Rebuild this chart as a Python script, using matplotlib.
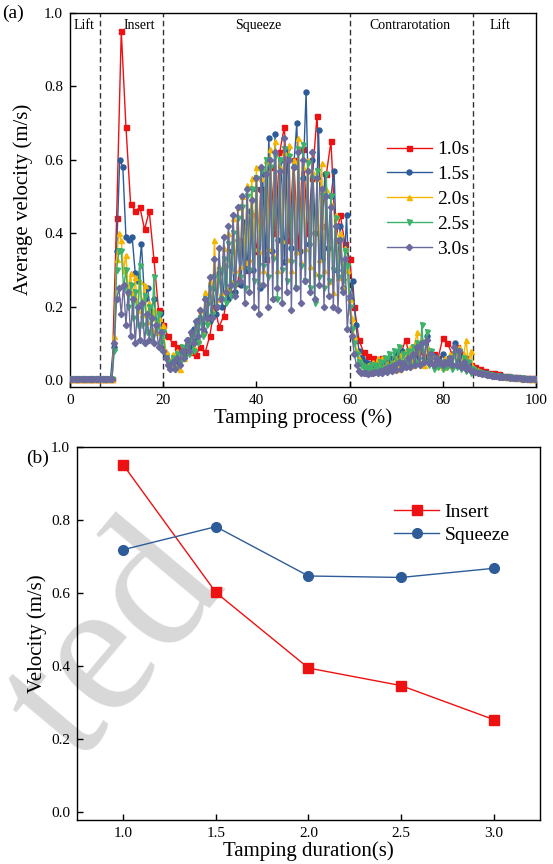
"""
plot.py - tamping velocity figure
(a) average ballast velocity over the tamping process for five durations
(b) peak insert / squeeze velocity against tamping duration
"""

import numpy as np
import matplotlib
matplotlib.use("Agg")
import matplotlib.pyplot as plt


# --- DATA ---
durations = ["1.0s", "1.5s", "2.0s", "2.5s", "3.0s"]

vel_10 = [
    0.002, 0.002, 0.002, 0.002, 0.002, 0.002, 0.002, 0.002, 0.002, 0.002,
    0.44, 0.95, 0.69, 0.48, 0.46, 0.47, 0.41, 0.46, 0.33, 0.19,
    0.15, 0.12, 0.10, 0.09, 0.085, 0.08, 0.077, 0.068, 0.09, 0.075,
    0.12, 0.20, 0.145, 0.175, 0.245, 0.236, 0.263, 0.38, 0.30, 0.45,
    0.35, 0.52, 0.33, 0.58, 0.40, 0.62, 0.69, 0.38, 0.60, 0.35,
    0.63, 0.40, 0.55, 0.72, 0.42, 0.56, 0.65, 0.38, 0.45, 0.37,
    0.33, 0.20, 0.11, 0.075, 0.065, 0.06, 0.055, 0.06, 0.05, 0.055,
    0.06, 0.07, 0.11, 0.06, 0.07, 0.08, 0.065, 0.06, 0.07, 0.06,
    0.115, 0.10, 0.07, 0.09, 0.07, 0.06, 0.04, 0.035, 0.03, 0.025,
    0.02, 0.018, 0.015, 0.012, 0.01, 0.008, 0.007, 0.006, 0.005, 0.005,
    0.005,
]

vel_15 = [
    0.002, 0.002, 0.002, 0.002, 0.002, 0.002, 0.002, 0.002, 0.002, 0.002,
    0.002, 0.002, 0.002, 0.002,
    0.09, 0.35, 0.60, 0.58, 0.39, 0.38, 0.39,
    0.29, 0.27, 0.37, 0.22, 0.25, 0.18, 0.22, 0.15, 0.18, 0.12,
    0.07, 0.05, 0.04, 0.06, 0.05, 0.08, 0.07, 0.11, 0.09, 0.14,
    0.11, 0.17, 0.13, 0.21, 0.16, 0.25, 0.18, 0.29, 0.20, 0.31,
    0.22, 0.35, 0.24, 0.38, 0.26, 0.43, 0.30, 0.46, 0.30, 0.52,
    0.25, 0.56, 0.33, 0.66, 0.35, 0.67, 0.38, 0.60, 0.32, 0.63,
    0.36, 0.58, 0.70, 0.35, 0.55, 0.785, 0.37, 0.60, 0.40, 0.68,
    0.33, 0.56, 0.36, 0.50, 0.57, 0.30, 0.42, 0.25, 0.45, 0.22,
    0.27, 0.15, 0.08, 0.06, 0.05, 0.045, 0.04, 0.035, 0.04, 0.035,
    0.045, 0.04, 0.06, 0.04, 0.075, 0.05, 0.08, 0.045, 0.07, 0.05,
    0.09, 0.05, 0.10, 0.06, 0.12, 0.05, 0.065, 0.045, 0.05, 0.07,
    0.045, 0.06, 0.04, 0.10, 0.05, 0.065, 0.04, 0.05, 0.035, 0.03,
    0.025, 0.022, 0.02, 0.018, 0.016, 0.014, 0.012, 0.011, 0.01, 0.009,
    0.008, 0.007, 0.006, 0.006, 0.005, 0.005, 0.004, 0.004, 0.004, 0.004,
]

vel_20 = [
    0.002, 0.002, 0.002, 0.002, 0.002, 0.002, 0.002, 0.002, 0.002, 0.002,
    0.002, 0.002, 0.002, 0.002, 0.002, 0.002, 0.002, 0.002, 0.002,
    0.12, 0.33,
    0.40, 0.38, 0.30, 0.34, 0.24, 0.29, 0.22, 0.28, 0.19, 0.27,
    0.18, 0.26, 0.16, 0.21, 0.14, 0.19, 0.13, 0.17, 0.12, 0.15,
    0.08, 0.06, 0.04, 0.07, 0.04, 0.08, 0.03, 0.07, 0.06, 0.11,
    0.08, 0.13, 0.09, 0.16, 0.11, 0.19, 0.13, 0.24, 0.16, 0.27,
    0.19, 0.38, 0.22, 0.31, 0.24, 0.36, 0.25, 0.40, 0.27, 0.44,
    0.30, 0.47, 0.31, 0.50, 0.32, 0.53, 0.33, 0.55, 0.36, 0.58,
    0.35, 0.55, 0.30, 0.60, 0.36, 0.63, 0.34, 0.65, 0.30, 0.58,
    0.38, 0.62, 0.33, 0.64, 0.30, 0.60, 0.35, 0.66, 0.32, 0.58,
    0.36, 0.60, 0.31, 0.57, 0.29, 0.55, 0.33, 0.59, 0.30, 0.52,
    0.27, 0.48, 0.24, 0.45, 0.28, 0.40, 0.25, 0.36, 0.30, 0.22,
    0.17, 0.12, 0.08, 0.06, 0.05, 0.04, 0.035, 0.04, 0.03, 0.05,
    0.03, 0.06, 0.03, 0.06, 0.03, 0.045, 0.03, 0.05, 0.035, 0.06,
    0.03, 0.07, 0.04, 0.08, 0.04, 0.09, 0.04, 0.10, 0.13, 0.05,
    0.11, 0.04, 0.09, 0.05, 0.07, 0.04, 0.06, 0.04, 0.05, 0.035,
    0.06, 0.04, 0.07, 0.04, 0.08, 0.045, 0.09, 0.04, 0.07, 0.11,
    0.04, 0.08, 0.035, 0.03, 0.027, 0.024, 0.022, 0.02, 0.018, 0.016,
    0.015, 0.014, 0.013, 0.012, 0.011, 0.01, 0.009, 0.009, 0.008, 0.007,
    0.007, 0.006, 0.006, 0.005, 0.005, 0.005, 0.004, 0.004, 0.004, 0.004,
]

vel_25 = [
    0.002, 0.002, 0.002, 0.002, 0.002, 0.002, 0.002, 0.002, 0.002, 0.002,
    0.002, 0.002, 0.002, 0.002, 0.002, 0.002, 0.002, 0.002, 0.002,
    0.08, 0.30,
    0.35, 0.35, 0.25, 0.30, 0.20, 0.26, 0.17, 0.24, 0.15, 0.31,
    0.15, 0.23, 0.13, 0.20, 0.12, 0.28, 0.14, 0.18, 0.10, 0.13,
    0.06, 0.05, 0.04, 0.06, 0.03, 0.07, 0.05, 0.09, 0.06, 0.10,
    0.07, 0.12, 0.08, 0.15, 0.10, 0.17, 0.12, 0.22, 0.15, 0.25,
    0.18, 0.28, 0.20, 0.30, 0.22, 0.33, 0.21, 0.37, 0.23, 0.40,
    0.26, 0.44, 0.28, 0.47, 0.25, 0.50, 0.30, 0.52, 0.27, 0.55,
    0.26, 0.57, 0.31, 0.60, 0.28, 0.58, 0.33, 0.61, 0.22, 0.60,
    0.30, 0.63, 0.27, 0.61, 0.32, 0.58, 0.25, 0.63, 0.31, 0.64,
    0.27, 0.59, 0.25, 0.55, 0.21, 0.57, 0.28, 0.50, 0.25, 0.56,
    0.27, 0.50, 0.30, 0.44, 0.28, 0.38, 0.27, 0.35, 0.31, 0.20,
    0.14, 0.10, 0.07, 0.05, 0.04, 0.03, 0.035, 0.03, 0.04, 0.025,
    0.04, 0.03, 0.05, 0.03, 0.06, 0.03, 0.07, 0.035, 0.08, 0.04,
    0.09, 0.04, 0.07, 0.04, 0.08, 0.04, 0.09, 0.05, 0.10, 0.04,
    0.15, 0.05, 0.13, 0.04, 0.08, 0.03, 0.06, 0.035, 0.05, 0.03,
    0.05, 0.035, 0.06, 0.03, 0.07, 0.035, 0.08, 0.03, 0.06, 0.025,
    0.05, 0.02, 0.03, 0.025, 0.022, 0.02, 0.018, 0.016, 0.015, 0.014,
    0.013, 0.012, 0.011, 0.01, 0.009, 0.009, 0.008, 0.007, 0.007, 0.006,
    0.006, 0.005, 0.005, 0.005, 0.004, 0.004, 0.004, 0.003, 0.003, 0.003,
]

vel_30 = [
    0.002, 0.002, 0.002, 0.002, 0.002, 0.002, 0.002, 0.002, 0.002, 0.002,
    0.002, 0.002, 0.002, 0.002, 0.002, 0.002, 0.002, 0.002, 0.002,
    0.10, 0.22,
    0.25, 0.18, 0.26, 0.15, 0.24, 0.12, 0.22, 0.10, 0.20, 0.11,
    0.21, 0.10, 0.18, 0.11, 0.17, 0.10, 0.15, 0.09, 0.13, 0.08,
    0.06, 0.04, 0.03, 0.05, 0.03, 0.06, 0.04, 0.08, 0.06, 0.11,
    0.08, 0.13, 0.10, 0.16, 0.12, 0.19, 0.14, 0.22, 0.17, 0.28,
    0.17, 0.33, 0.20, 0.36, 0.22, 0.39, 0.24, 0.42, 0.26, 0.45,
    0.23, 0.47, 0.27, 0.50, 0.21, 0.52, 0.24, 0.49, 0.20, 0.55,
    0.18, 0.58, 0.26, 0.56, 0.20, 0.60, 0.22, 0.62, 0.25, 0.57,
    0.21, 0.66, 0.24, 0.60, 0.19, 0.58, 0.25, 0.62, 0.21, 0.60,
    0.27, 0.57, 0.24, 0.62, 0.22, 0.55, 0.26, 0.52, 0.20, 0.50,
    0.23, 0.47, 0.20, 0.42, 0.19, 0.38, 0.24, 0.33, 0.14, 0.23,
    0.12, 0.07, 0.04, 0.025, 0.02, 0.018, 0.02, 0.015, 0.02, 0.018,
    0.022, 0.02, 0.025, 0.02, 0.03, 0.022, 0.035, 0.025, 0.04, 0.028,
    0.05, 0.03, 0.045, 0.035, 0.06, 0.035, 0.07, 0.04, 0.09, 0.04,
    0.10, 0.05, 0.11, 0.045, 0.07, 0.04, 0.06, 0.045, 0.05, 0.04,
    0.05, 0.045, 0.06, 0.04, 0.09, 0.04, 0.08, 0.035, 0.05, 0.03,
    0.035, 0.025, 0.025, 0.022, 0.02, 0.018, 0.016, 0.015, 0.014, 0.013,
    0.012, 0.011, 0.01, 0.009, 0.009, 0.008, 0.007, 0.007, 0.006, 0.006,
    0.005, 0.005, 0.005, 0.004, 0.004, 0.004, 0.003, 0.003, 0.003, 0.003,
]

# phase boundaries (% of tamping process) and phase names
phase_bounds = [6.5, 20.0, 60.0, 86.5]
phase_names  = ["Lift", "Insert", "Squeeze", "Contrarotation", "Lift"]
phase_label_x = [3.0, 14.8, 40.4, 73.0, 92.3]

# panel (b)
tamp_duration = [1.0, 1.5, 2.0, 2.5, 3.0]
insert_peak   = [0.951, 0.602, 0.395, 0.347, 0.254]
squeeze_peak  = [0.719, 0.782, 0.647, 0.643, 0.668]
# --------------------------------------

COLORS  = ["#EE1111", "#2D5C98", "#F6B600", "#3DB26A", "#6A6A9C"]
MARKERS = ["s", "o", "^", "v", "D"]

plt.rcParams["font.family"] = ["Liberation Serif", "DejaVu Serif"]
plt.rcParams["axes.linewidth"] = 1.0


def style_axes(ax):
    ax.tick_params(direction="in", length=4.5, width=1.0, labelsize=11, pad=5,
                   top=False, right=False)
    for s in ax.spines.values():
        s.set_color("black")


def plot_process(ax):
    series = [vel_10, vel_15, vel_20, vel_25, vel_30]
    for vals, lab, c, m in zip(series, durations, COLORS, MARKERS):
        x = np.linspace(0, 100, len(vals))
        ms = 3.6 if m != "D" else 3.2
        ax.plot(x, vals, color=c, marker=m, ms=ms, lw=1.0, label=lab, zorder=3)

    for xb in phase_bounds:
        ax.axvline(xb, color="0.2", lw=1.0, ls=(0, (4, 2.5)), zorder=1)
    for xl, name in zip(phase_label_x, phase_names):
        ax.text(xl, 0.966, name, ha="center", va="center", fontsize=10)

    ax.set_xlim(0, 100)
    ax.set_ylim(-0.019, 1.0)
    ax.set_xticks([0, 20, 40, 60, 80, 100])
    ax.set_yticks([0.0, 0.2, 0.4, 0.6, 0.8, 1.0])
    ax.set_yticklabels(["0.0", "0.2", "0.4", "0.6", "0.8", "1.0"])
    ax.set_xlabel("Tamping process (%)", fontsize=15, labelpad=1)
    ax.set_ylabel("Average velocity (m/s)", fontsize=15)
    ax.yaxis.set_label_coords(-0.08, 0.5)
    style_axes(ax)

    ax.legend(loc="upper left", bbox_to_anchor=(0.68, 0.658), frameon=False,
              fontsize=14, handlelength=2.3, handletextpad=0.3,
              labelspacing=0.37, borderpad=0, borderaxespad=0)


def plot_peaks(ax):
    ax.plot(tamp_duration, insert_peak, color="#EE1111", marker="s", ms=7,
            lw=1.0, label="Insert", zorder=3)
    ax.plot(tamp_duration, squeeze_peak, color="#2D5C98", marker="o", ms=7,
            lw=1.0, label="Squeeze", zorder=3)

    ax.set_xlim(0.75, 3.25)
    ax.set_ylim(-0.021, 1.0)
    ax.set_xticks(tamp_duration)
    ax.set_xticklabels(["1.0", "1.5", "2.0", "2.5", "3.0"])
    ax.set_yticks([0.0, 0.2, 0.4, 0.6, 0.8, 1.0])
    ax.set_yticklabels(["0.0", "0.2", "0.4", "0.6", "0.8", "1.0"])
    ax.set_xlabel("Tamping duration(s)", fontsize=15, labelpad=1)
    ax.set_ylabel("Velocity (m/s)", fontsize=15)
    ax.yaxis.set_label_coords(-0.065, 0.5)
    style_axes(ax)
    ax.patch.set_alpha(0)

    ax.legend(loc="upper left", bbox_to_anchor=(0.685, 0.85), frameon=False,
              fontsize=14, handlelength=2.3, handletextpad=0.3,
              labelspacing=0.3, borderpad=0, borderaxespad=0)


if __name__ == "__main__":
    fig = plt.figure(figsize=(5.53, 8.64), dpi=100)
    ax_a = fig.add_axes([0.1266, 0.5521, 0.8427, 0.4332])
    ax_b = fig.add_axes([0.1392, 0.0509, 0.8373, 0.4317])

    # faint watermark behind panel (b); only "ted" shows in the source
    fig.text(0.41, 0.322, "ted", rotation=50, rotation_mode="anchor",
             ha="right", va="baseline", fontsize=138, color="#d8d8d8",
             zorder=-1)

    plot_process(ax_a)
    plot_peaks(ax_b)

    fig.text(0.004, 0.985, "(a)", fontsize=14, ha="left", va="center")
    fig.text(0.048, 0.47, "(b)", fontsize=14, ha="left", va="center")

    fig.savefig("out.png", dpi=100)
